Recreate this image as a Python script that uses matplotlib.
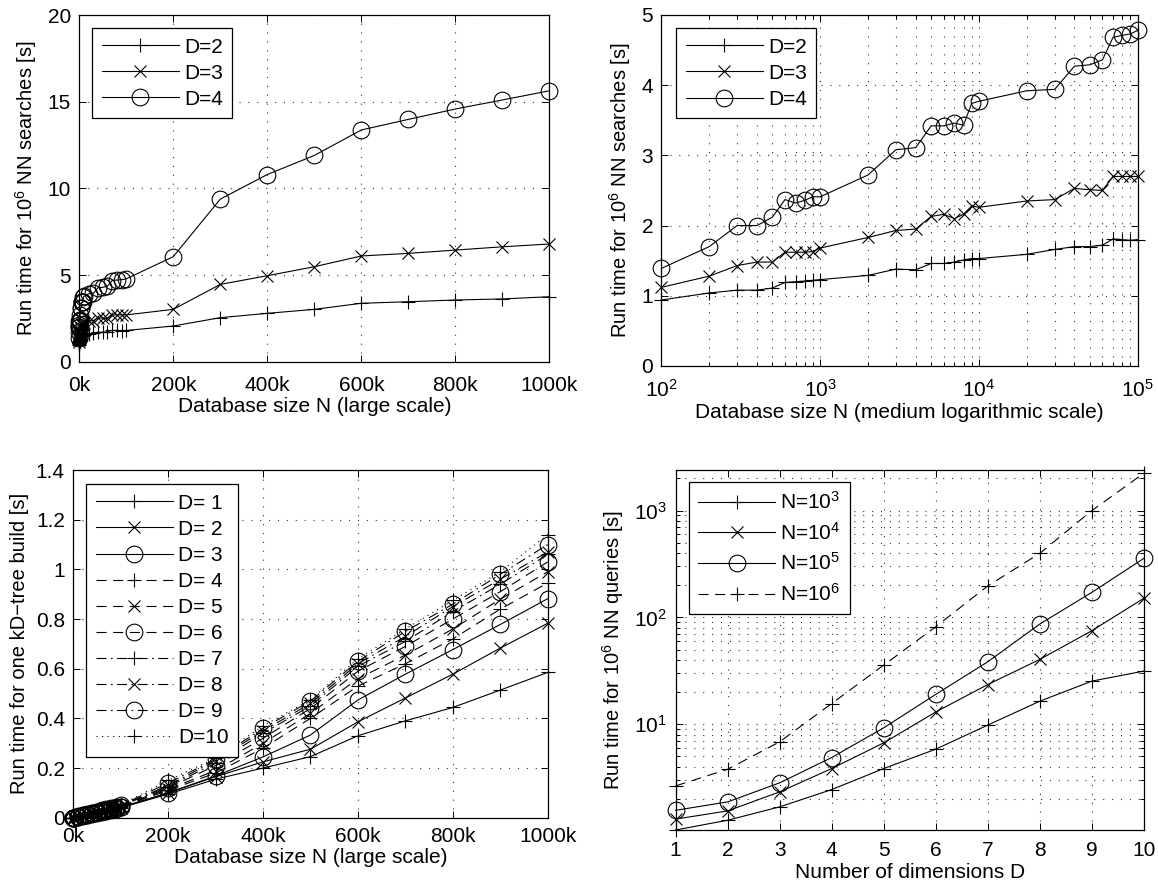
import numpy as np
import matplotlib
matplotlib.use('Agg')
import matplotlib.pyplot as plt
from matplotlib.ticker import FuncFormatter, LogLocator, NullFormatter

plt.rcParams['font.family'] = ['Liberation Sans', 'DejaVu Sans']
plt.rcParams['mathtext.default'] = 'regular'
plt.rcParams['font.size'] = 15

# === Data ===
# database sizes (medium range, shared by top plots)
N_medium = [100, 200, 300, 400, 500, 600, 700, 800, 900,
            1000, 2000, 3000, 4000, 5000, 6000, 7000, 8000, 9000,
            10000, 20000, 30000, 40000, 50000, 60000, 70000, 80000, 90000,
            100000]
N_large = [200000, 300000, 400000, 500000, 600000, 700000, 800000, 900000, 1000000]

# search times for 10^6 NN searches [s]
search_d2_medium = [0.94, 1.04, 1.08, 1.08, 1.11, 1.19, 1.20, 1.21, 1.22,
                    1.23, 1.29, 1.38, 1.37, 1.46, 1.46, 1.48, 1.51, 1.53,
                    1.53, 1.59, 1.66, 1.70, 1.70, 1.72, 1.81, 1.80, 1.79,
                    1.80]
search_d3_medium = [1.12, 1.28, 1.43, 1.48, 1.48, 1.62, 1.62, 1.62, 1.63,
                    1.68, 1.83, 1.93, 1.95, 2.13, 2.16, 2.10, 2.16, 2.28,
                    2.26, 2.35, 2.37, 2.53, 2.51, 2.50, 2.70, 2.70, 2.70,
                    2.70]
search_d4_medium = [1.39, 1.70, 2.00, 2.00, 2.12, 2.37, 2.32, 2.36, 2.41,
                    2.41, 2.72, 3.08, 3.11, 3.42, 3.42, 3.46, 3.43, 3.74,
                    3.77, 3.92, 3.94, 4.27, 4.29, 4.36, 4.68, 4.71, 4.73,
                    4.78]
search_d2_large = [2.06, 2.54, 2.79, 3.02, 3.37, 3.46, 3.56, 3.62, 3.75]
search_d3_large = [3.02, 4.46, 4.96, 5.48, 6.10, 6.25, 6.44, 6.63, 6.79]
search_d4_large = [6.06, 9.38, 10.8, 11.9, 13.37, 13.98, 14.58, 15.1, 15.63]
search_labels = ['D=2', 'D=3', 'D=4']

# kD-tree build times [s]
N_build = [100, 1000, 10000, 20000, 30000, 40000, 50000, 60000, 70000, 80000,
           90000, 100000] + N_large
build_d1 = [0.0, 0.0004, 0.003, 0.007, 0.011, 0.015, 0.019, 0.023, 0.027, 0.031, 0.035, 0.040,
            0.095, 0.155, 0.200, 0.246, 0.330, 0.390, 0.444, 0.514, 0.585]
build_d2 = [0.0, 0.0004, 0.003, 0.007, 0.011, 0.015, 0.020, 0.024, 0.028, 0.032, 0.036, 0.041,
            0.100, 0.165, 0.225, 0.276, 0.386, 0.482, 0.578, 0.683, 0.783]
build_d3 = [0.0, 0.0004, 0.003, 0.008, 0.012, 0.016, 0.020, 0.025, 0.029, 0.033, 0.037, 0.042,
            0.100, 0.168, 0.245, 0.333, 0.474, 0.578, 0.677, 0.778, 0.882]
build_d4 = [0.0, 0.0004, 0.004, 0.008, 0.012, 0.017, 0.021, 0.025, 0.030, 0.034, 0.038, 0.043,
            0.110, 0.180, 0.280, 0.400, 0.530, 0.620, 0.720, 0.840, 0.945]
build_d5 = [0.0, 0.0005, 0.004, 0.008, 0.013, 0.017, 0.022, 0.026, 0.031, 0.035, 0.040, 0.044,
            0.115, 0.190, 0.300, 0.420, 0.560, 0.655, 0.760, 0.880, 0.990]
build_d6 = [0.0, 0.0005, 0.004, 0.009, 0.013, 0.018, 0.022, 0.027, 0.032, 0.036, 0.041, 0.045,
            0.120, 0.210, 0.320, 0.440, 0.590, 0.690, 0.800, 0.910, 1.030]
build_d7 = [0.0, 0.0005, 0.004, 0.009, 0.014, 0.018, 0.023, 0.028, 0.033, 0.037, 0.042, 0.047,
            0.125, 0.220, 0.340, 0.450, 0.610, 0.710, 0.830, 0.940, 1.060]
build_d8 = [0.0, 0.0005, 0.005, 0.009, 0.014, 0.019, 0.024, 0.029, 0.034, 0.038, 0.043, 0.048,
            0.130, 0.230, 0.350, 0.460, 0.620, 0.730, 0.850, 0.960, 1.070]
build_d9 = [0.0, 0.0005, 0.005, 0.010, 0.015, 0.020, 0.025, 0.030, 0.035, 0.040, 0.045, 0.050,
            0.140, 0.235, 0.360, 0.470, 0.630, 0.750, 0.860, 0.980, 1.100]
build_d10 = [0.0, 0.0006, 0.005, 0.010, 0.015, 0.020, 0.026, 0.031, 0.036, 0.041, 0.046, 0.052,
             0.150, 0.240, 0.370, 0.475, 0.640, 0.760, 0.875, 0.990, 1.140]
build_labels = ['D= 1', 'D= 2', 'D= 3', 'D= 4', 'D= 5', 'D= 6', 'D= 7', 'D= 8', 'D= 9', 'D=10']

# query times vs. dimension
dims = [1, 2, 3, 4, 5, 6, 7, 8, 9, 10]
query_n1e3 = [1.02, 1.26, 1.68, 2.44, 3.84, 5.83, 9.8, 16.4, 25.3, 31.4]
query_n1e4 = [1.29, 1.54, 2.32, 3.84, 6.68, 13.0, 23.5, 40.4, 75, 151]
query_n1e5 = [1.56, 1.87, 2.82, 4.87, 9.24, 19.0, 38.4, 86.6, 171.6, 357]
query_n1e6 = [2.64, 3.78, 6.83, 15.6, 35.7, 81.7, 197, 398, 1000, 2240]
query_labels = ['N=$10^3$', 'N=$10^4$', 'N=$10^5$', 'N=$10^6$']

# === Styling helpers ===
GRID = dict(color='#333333', linestyle=(0, (1, 7)), linewidth=0.8)
MS = {'+': 10, 'x': 8.5, 'o': 12}
FS = 15
# MATLAB-like line styles (long dashes)
LS = {'-': '-', '--': (0, (9, 6)), '-.': (0, (9, 4, 1.5, 4)), ':': (0, (1, 4))}


def style_axes(ax, xpad=9):
    for s in ax.spines.values():
        s.set_linewidth(0.9)
    ax.tick_params(which='both', direction='in', top=True, right=True, width=0.7)
    ax.tick_params(which='major', length=5, labelsize=FS)
    ax.tick_params(which='minor', length=3)
    ax.tick_params(axis='x', which='major', pad=xpad)
    ax.tick_params(axis='y', which='major', pad=6)


def draw(ax, x, y, marker, ls='-', label=None):
    ax.plot(x, y, linestyle=LS[ls], color='black', linewidth=0.8, marker=marker,
            markersize=MS[marker], markerfacecolor='none', markeredgecolor='black',
            markeredgewidth=0.8, label=label, clip_on=False)


def legend(ax, xa, ya, spacing=0.34):
    lg = ax.legend(loc='upper left', bbox_to_anchor=(xa, ya), borderaxespad=0,
                   fancybox=False, framealpha=1, edgecolor='black', fontsize=FS,
                   handlelength=3.7, handletextpad=0.25, borderpad=0.45,
                   labelspacing=spacing, numpoints=1)
    lg.get_frame().set_linewidth(0.9)


kfmt = FuncFormatter(lambda v, p: f'{int(round(v / 1000))}k')

fig = plt.figure(figsize=(11.58, 8.90), dpi=100)

# === 1. Top left: search time, large scale ===
ax1 = fig.add_axes([0.0684, 0.5936, 0.4061, 0.3895])
N_all = N_medium + N_large
markers = ['+', 'x', 'o']
for med, lar, m, lab in zip([search_d2_medium, search_d3_medium, search_d4_medium],
                            [search_d2_large, search_d3_large, search_d4_large],
                            markers, search_labels):
    draw(ax1, N_all, med + lar, m, label=lab)
ax1.set_xlim(0, 1000000)
ax1.set_ylim(0, 20)
ax1.set_xticks([0, 200000, 400000, 600000, 800000, 1000000])
ax1.set_yticks([0, 5, 10, 15, 20])
ax1.xaxis.set_major_formatter(kfmt)
ax1.grid(True, **GRID)
ax1.set_xlabel('Database size N (large scale)', fontsize=FS, labelpad=2)
ax1.set_ylabel('Run time for $10^6$ NN searches [s]', fontsize=14.5, labelpad=6)
style_axes(ax1, xpad=10)
legend(ax1, 0.028, 0.962)

# === 2. Top right: search time, medium log scale ===
ax2 = fig.add_axes([0.5712, 0.5888, 0.4112, 0.3944])
for ys, m, lab in zip([search_d2_medium, search_d3_medium, search_d4_medium],
                      markers, search_labels):
    draw(ax2, N_medium, ys, m, label=lab)
ax2.set_xscale('log')
ax2.set_xlim(100, 100000)
ax2.set_ylim(0, 5)
ax2.set_yticks([0, 1, 2, 3, 4, 5])
ax2.xaxis.set_minor_locator(LogLocator(base=10, subs=np.arange(2, 10)))
ax2.xaxis.set_minor_formatter(NullFormatter())
ax2.grid(True, which='major', **GRID)
ax2.grid(True, which='minor', axis='x', **GRID)
ax2.set_xlabel('Database size N (medium logarithmic scale)', fontsize=FS, labelpad=2)
ax2.set_ylabel('Run time for $10^6$ NN searches [s]', fontsize=14.5, labelpad=6)
style_axes(ax2, xpad=9)
legend(ax2, 0.031, 0.962)

# === 3. Bottom left: kD-tree build time ===
ax3 = fig.add_axes([0.0632, 0.0812, 0.4098, 0.3907])
build_series = [build_d1, build_d2, build_d3, build_d4, build_d5,
                build_d6, build_d7, build_d8, build_d9, build_d10]
build_markers = ['+', 'x', 'o', '+', 'x', 'o', '+', 'x', 'o', '+']
build_styles = ['-', '-', '-', '--', '--', '--', '-.', '-.', '-.', ':']
for ys, m, ls, lab in zip(build_series, build_markers, build_styles, build_labels):
    draw(ax3, N_build, ys, m, ls=ls, label=lab)
ax3.set_xlim(0, 1000000)
ax3.set_ylim(0, 1.4)
ax3.set_xticks([0, 200000, 400000, 600000, 800000, 1000000])
ax3.set_yticks([0, 0.2, 0.4, 0.6, 0.8, 1.0, 1.2, 1.4])
ax3.xaxis.set_major_formatter(kfmt)
ax3.yaxis.set_major_formatter(FuncFormatter(lambda v, p: f'{v:g}'))
ax3.grid(True, **GRID)
ax3.set_xlabel('Database size N (large scale)', fontsize=FS, labelpad=1)
ax3.set_ylabel('Run time for one kD\u2212tree build [s]', fontsize=14.5, labelpad=5)
style_axes(ax3, xpad=7)
legend(ax3, 0.028, 0.959)

# === 4. Bottom right: query time vs dimension ===
ax4 = fig.add_axes([0.5834, 0.0674, 0.4044, 0.4045])
for ys, m, ls, lab in zip([query_n1e3, query_n1e4, query_n1e5, query_n1e6],
                          ['+', 'x', 'o', '+'], ['-', '-', '-', '--'], query_labels):
    draw(ax4, dims, ys, m, ls=ls, label=lab)
ax4.set_yscale('log')
ax4.set_xlim(1, 10)
ax4.set_ylim(1.02, 2400)
ax4.set_xticks(dims)
ax4.yaxis.set_minor_locator(LogLocator(base=10, subs=np.arange(2, 10)))
ax4.yaxis.set_minor_formatter(NullFormatter())
ax4.grid(True, which='major', **GRID)
ax4.grid(True, which='minor', axis='y', **GRID)
ax4.set_xlabel('Number of dimensions D', fontsize=FS, labelpad=2)
ax4.set_ylabel('Run time for $10^6$ NN queries [s]', fontsize=14.5, labelpad=6)
style_axes(ax4, xpad=8)
legend(ax4, 0.028, 0.9675, spacing=0.42)

fig.savefig('out.png', dpi=100, facecolor='white')
